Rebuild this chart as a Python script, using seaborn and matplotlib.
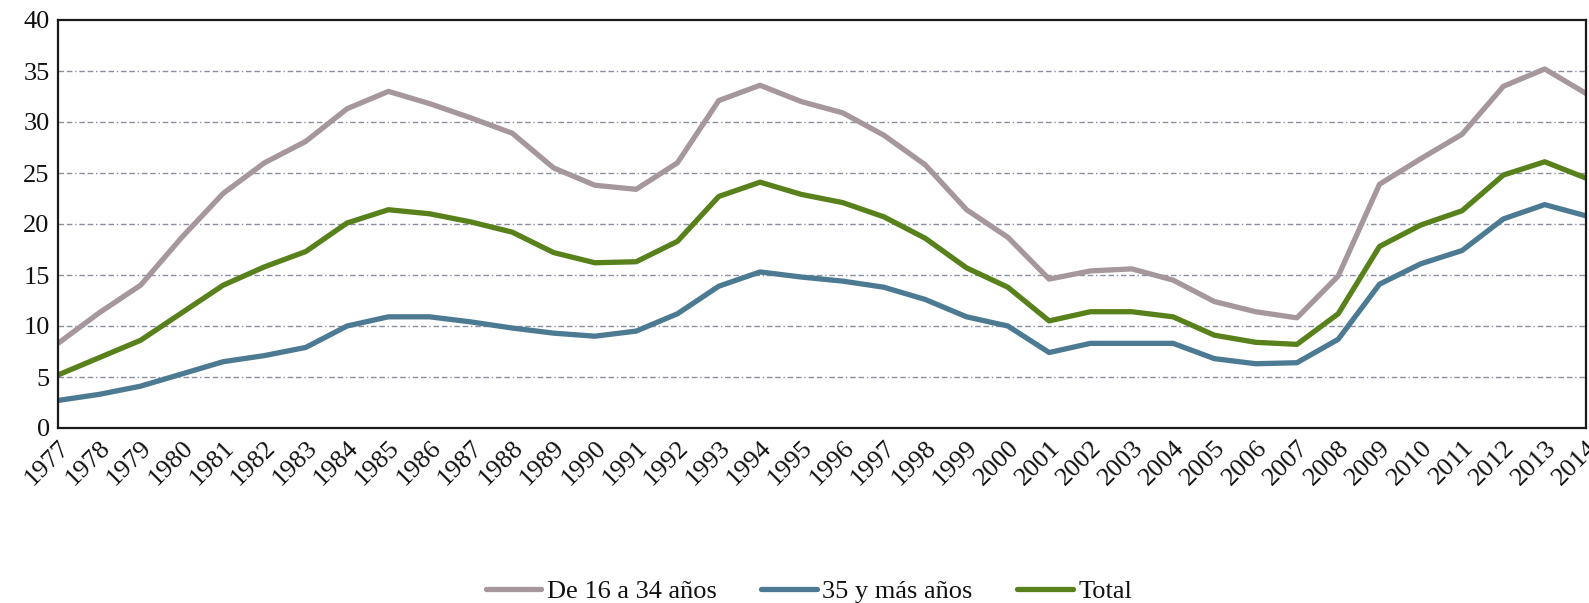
import numpy as np
import pandas as pd
import matplotlib
matplotlib.use("Agg")
import matplotlib.pyplot as plt
import seaborn as sns

years = list(range(1977, 2015))
joven = [8.3, 11.3, 14.0, 18.7, 23.0, 26.0, 28.1, 31.3, 33.0, 31.8, 30.4, 28.9, 25.5, 23.8, 23.4, 26.0, 32.1, 33.6,
         32.0, 30.9, 28.7, 25.8, 21.4, 18.7, 14.6, 15.4, 15.6, 14.5, 12.4, 11.4, 10.8, 14.9, 23.9, 26.4, 28.8, 33.5, 35.2, 32.8]
mayor = [2.7, 3.3, 4.1, 5.3, 6.5, 7.1, 7.9, 10.0, 10.9, 10.9, 10.4, 9.8, 9.3, 9.0, 9.5, 11.2, 13.9, 15.3,
         14.8, 14.4, 13.8, 12.6, 10.9, 10.0, 7.4, 8.3, 8.3, 8.3, 6.8, 6.3, 6.4, 8.7, 14.1, 16.1, 17.4, 20.5, 21.9, 20.8]
total = [5.2, 6.9, 8.6, 11.3, 14.0, 15.8, 17.3, 20.1, 21.4, 21.0, 20.2, 19.2, 17.2, 16.2, 16.3, 18.3, 22.7, 24.1,
         22.9, 22.1, 20.7, 18.6, 15.7, 13.8, 10.5, 11.4, 11.4, 10.9, 9.1, 8.4, 8.2, 11.2, 17.8, 19.9, 21.3, 24.8, 26.1, 24.5]
series_names = ["De 16 a 34 años", "35 y más años", "Total"]
colors = ["#A5979C", "#4C7A93", "#58801B"]

df = pd.DataFrame({"year": years * 3,
                   "value": joven + mayor + total,
                   "serie": [series_names[0]] * len(years) + [series_names[1]] * len(years) + [series_names[2]] * len(years)})

sns.set_theme(style="white")
plt.rcParams['font.family'] = ['Liberation Serif', 'DejaVu Serif']

fig = plt.figure(figsize=(15.89, 6.03), dpi=100)
ax = fig.add_axes([58 / 1589, 1 - 428 / 603, (1586 - 58) / 1589, (428 - 20) / 603])

sns.lineplot(data=df, x="year", y="value", hue="serie", palette=colors, hue_order=series_names,
             linewidth=3.8, ax=ax, legend=True)

ax.set_xlim(1977, 2014)
ax.set_ylim(0, 40)
ax.set_yticks(range(0, 41, 5))
ax.set_xticks(years)
ax.set_xticklabels([str(y) for y in years], rotation=45, ha="right", rotation_mode="anchor")
ax.tick_params(axis="both", labelsize=19, length=0, pad=6, colors="#111111")
ax.tick_params(axis="y", pad=6)
ax.set_xlabel("")
ax.set_ylabel("")
for y in range(5, 40, 5):
    ax.axhline(y, color="#8C8FA0", linewidth=1.0, linestyle=(0, (4, 2, 4, 2, 1, 2)), zorder=0)
for s in ax.spines.values():
    s.set_visible(True)
    s.set_color("#1a1a1a")
    s.set_linewidth(1.6)

handles, labels = ax.get_legend_handles_labels()
for h in handles:
    h.set_solid_capstyle("round")
ax.legend(handles, labels, loc="center", bbox_to_anchor=(809 / 1589, 1 - 591 / 603), bbox_transform=fig.transFigure,
          ncol=3, frameon=False, fontsize=19, handlelength=2.1, columnspacing=1.7, handletextpad=0.2,
          borderaxespad=0)
leg = ax.get_legend()
for t in leg.get_texts():
    t.set_color("#111111")

fig.savefig("out.png", dpi=100)
